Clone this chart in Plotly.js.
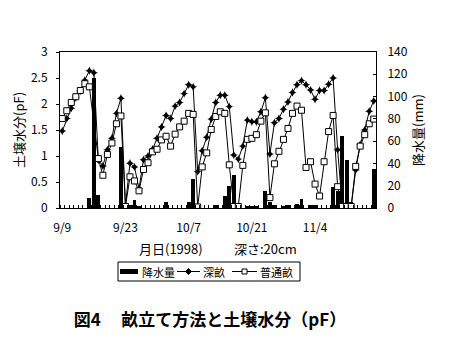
<!DOCTYPE html>
<html>
<head>
<meta charset="utf-8">
<script src="https://cdn.plot.ly/plotly-3.0.1.min.js"></script>
<style>html,body{margin:0;padding:0;background:#fff;}#chart{width:456px;height:352px;}</style>
</head>
<body>
<div id="chart"></div>
<script>
// Categories: daily dates from 1998-09-09 (70 days)
var startDate = '1998-09-09';
var nDays = 70;
var dates = [];
(function(){
  var d0 = new Date(Date.UTC(1998, 8, 9));
  for (var i = 0; i < nDays; i++) {
    var d = new Date(d0.getTime() + i * 86400000);
    dates.push(d.toISOString().slice(0, 10));
  }
})();

// 降水量 (mm)
var rain = [0,0,0,0,0,0,9,117,12,0,
            0,0,0,55,4,3,7,2,0,0,
            0,0,0,5,0,0,0,0,5,26,
            4,0,0,0,3,0,11,20,30,2,
            0,2,2,2,0,15,5,3,0,2,
            3,0,4,8,0,3,3,0,0,0,
            19,15,65,43,5,0,0,0,0,35];

// 深畝 (pF)
var deep = [1.48,1.72,1.92,2.12,2.25,2.46,2.64,2.60,0.92,0.81,
            1.12,1.34,1.82,2.11,0.05,0.86,0.79,0.37,0.93,1.00,
            1.13,1.34,1.56,1.78,1.72,1.96,2.03,2.20,2.37,2.33,
            0.70,1.10,1.36,1.71,2.03,2.17,2.17,1.95,1.02,0.94,
            1.19,1.69,1.66,1.66,1.85,2.12,1.04,1.64,1.72,1.90,
            2.04,2.22,2.37,2.45,2.37,2.27,2.09,2.26,2.26,2.38,
            2.50,1.12,0.08,0.03,0.03,0.73,1.22,1.50,1.86,2.06];

// 普通畝 (pF)
var normal = [1.72,1.87,2.03,2.14,2.26,2.39,2.33,null,0.95,0.63,
              1.03,1.25,1.62,1.77,0.03,0.60,0.52,0.33,0.74,0.87,
              1.08,1.13,1.31,1.38,1.19,1.42,1.56,1.67,1.82,1.80,
              0.02,0.79,1.06,1.51,1.76,1.85,1.82,0.83,0.03,0.03,
              0.82,1.32,1.34,1.41,1.67,1.83,0.20,0.85,1.09,1.32,
              1.53,1.82,1.96,1.88,0.78,0.89,0.46,0.23,0.89,1.47,
              1.78,0.41,0.03,0.03,0.03,0.80,1.19,1.41,1.62,1.71];

var seriesNames = ['降水量', '深畝', '普通畝'];
var xTitleParts = ['月日(1998)', '深さ:20cm'];

var DAY = 86400000;
var font = 'Noto Sans CJK JP, sans-serif';

// plot area in pixels (for the hand-built legend box below the chart)
var PL = 60, PR = 376, PT = 52, PB = 208;
function px(x) { return (x - PL) / (PR - PL); }
function py(y) { return (PB - y) / (PB - PT); }

var traces = [
  {
    type: 'bar', name: seriesNames[0], x: dates, y: rain, yaxis: 'y',
    width: 0.85 * DAY, marker: {color: '#000', line: {width: 0}}
  },
  {
    type: 'scatter', mode: 'lines+markers', name: seriesNames[1], x: dates, y: deep, yaxis: 'y2',
    line: {color: '#000', width: 1},
    marker: {symbol: 'star-diamond', size: 6, color: '#000'},
    connectgaps: true
  },
  {
    type: 'scatter', mode: 'lines+markers', name: seriesNames[2], x: dates, y: normal, yaxis: 'y2',
    line: {color: '#000', width: 1},
    marker: {symbol: 'square', size: 6, color: '#fff', line: {color: '#000', width: 1}},
    connectgaps: true
  }
];

// legend (drawn as layout shapes / annotations)
var legY = 271.5;
var shapes = [
  {type: 'rect', xref: 'paper', yref: 'paper', x0: px(118), x1: px(300), y0: py(262), y1: py(281),
   line: {color: '#000', width: 1}, fillcolor: '#fff', layer: 'above'},
  {type: 'rect', xref: 'paper', yref: 'paper', x0: px(120), x1: px(138), y0: py(269), y1: py(274),
   line: {width: 0}, fillcolor: '#000', layer: 'above'},
  {type: 'line', xref: 'paper', yref: 'paper', x0: px(177), x1: px(200), y0: py(legY), y1: py(legY),
   line: {color: '#000', width: 1}, layer: 'above'},
  {type: 'path', xref: 'paper', yref: 'paper', layer: 'above',
   path: 'M' + px(188.5) + ',' + py(legY - 3) + ' L' + px(191.5) + ',' + py(legY) + ' L' + px(188.5) + ',' + py(legY + 3) + ' L' + px(185.5) + ',' + py(legY) + ' Z',
   fillcolor: '#000', line: {color: '#000', width: 1}},
  {type: 'line', xref: 'paper', yref: 'paper', x0: px(232), x1: px(257), y0: py(legY), y1: py(legY),
   line: {color: '#000', width: 1}, layer: 'above'},
  {type: 'rect', xref: 'paper', yref: 'paper', x0: px(242), x1: px(247), y0: py(legY + 2.5), y1: py(legY - 2.5),
   line: {color: '#000', width: 1}, fillcolor: '#fff', layer: 'above'}
];
var legFont = {family: font, size: 11, color: '#000'};
var axFont = {family: font, size: 13, color: '#000'};
var annotations = [
  {xref: 'paper', yref: 'paper', x: px(140), y: py(legY), text: seriesNames[0], showarrow: false, xanchor: 'left', yanchor: 'middle', font: legFont},
  {xref: 'paper', yref: 'paper', x: px(201), y: py(legY), text: seriesNames[1], showarrow: false, xanchor: 'left', yanchor: 'middle', font: legFont},
  {xref: 'paper', yref: 'paper', x: px(258), y: py(legY), text: seriesNames[2], showarrow: false, xanchor: 'left', yanchor: 'middle', font: legFont},
  // x-axis title (two parts with a wide gap)
  {xref: 'paper', yref: 'paper', x: px(170.5), y: py(248), text: xTitleParts[0], showarrow: false, xanchor: 'center', yanchor: 'middle', font: axFont},
  {xref: 'paper', yref: 'paper', x: px(265), y: py(248), text: xTitleParts[1], showarrow: false, xanchor: 'center', yanchor: 'middle', font: axFont}
];

var layout = {
  width: 456, height: 352,
  margin: {l: PL, r: 456 - PR, t: PT, b: 352 - PB, pad: 0},
  paper_bgcolor: '#fff', plot_bgcolor: '#fff',
  font: {family: font, color: '#000', size: 12},
  showlegend: false,
  bargap: 0,
  shapes: shapes,
  annotations: annotations,
  title: {
    text: '<b>図4\u3000\u2009畝立て方法と土壌水分（pF）</b>',
    font: {family: font, size: 17, color: '#000'},
    xref: 'container', x: 210 / 456, xanchor: 'center',
    yref: 'container', y: 1 - 320 / 352, yanchor: 'middle'
  },
  xaxis: {
    type: 'date',
    range: ['1998-09-08 12:00', '1998-11-17 12:00'],
    tick0: startDate, dtick: 14 * DAY, tickformat: '%-m/%-d',
    ticks: '', ticklabelstandoff: 9,
    tickfont: {family: font, size: 12, color: '#000'},
    showline: true, mirror: true, linecolor: '#000', linewidth: 1,
    showgrid: false, zeroline: false,
    minor: {ticks: 'inside', ticklen: 3, tickwidth: 1, tickcolor: '#000',
            tick0: '1998-09-08 12:00', dtick: DAY, showgrid: false}
  },
  yaxis: {
    side: 'right', range: [0, 140], dtick: 20,
    ticks: 'inside', ticklen: 3, tickwidth: 1, tickcolor: '#000',
    ticklabelstandoff: 8,
    showline: true, linecolor: '#000', linewidth: 1,
    showgrid: false, zeroline: false,
    tickfont: {family: font, size: 12, color: '#000'},
    title: {text: '降水量(mm)', font: axFont, standoff: 6}
  },
  yaxis2: {
    side: 'left', overlaying: 'y', range: [0, 3], dtick: 0.5,
    ticks: 'outside', ticklen: 3, tickwidth: 1, tickcolor: '#000',
    ticklabelstandoff: 6,
    showline: true, linecolor: '#000', linewidth: 1,
    showgrid: false, zeroline: false,
    tickfont: {family: font, size: 12, color: '#000'},
    title: {text: '土壌水分(pF)', font: axFont, standoff: 3}
  }
};

Plotly.newPlot('chart', traces, layout, {staticPlot: true, displayModeBar: false});
</script>
</body>
</html>
